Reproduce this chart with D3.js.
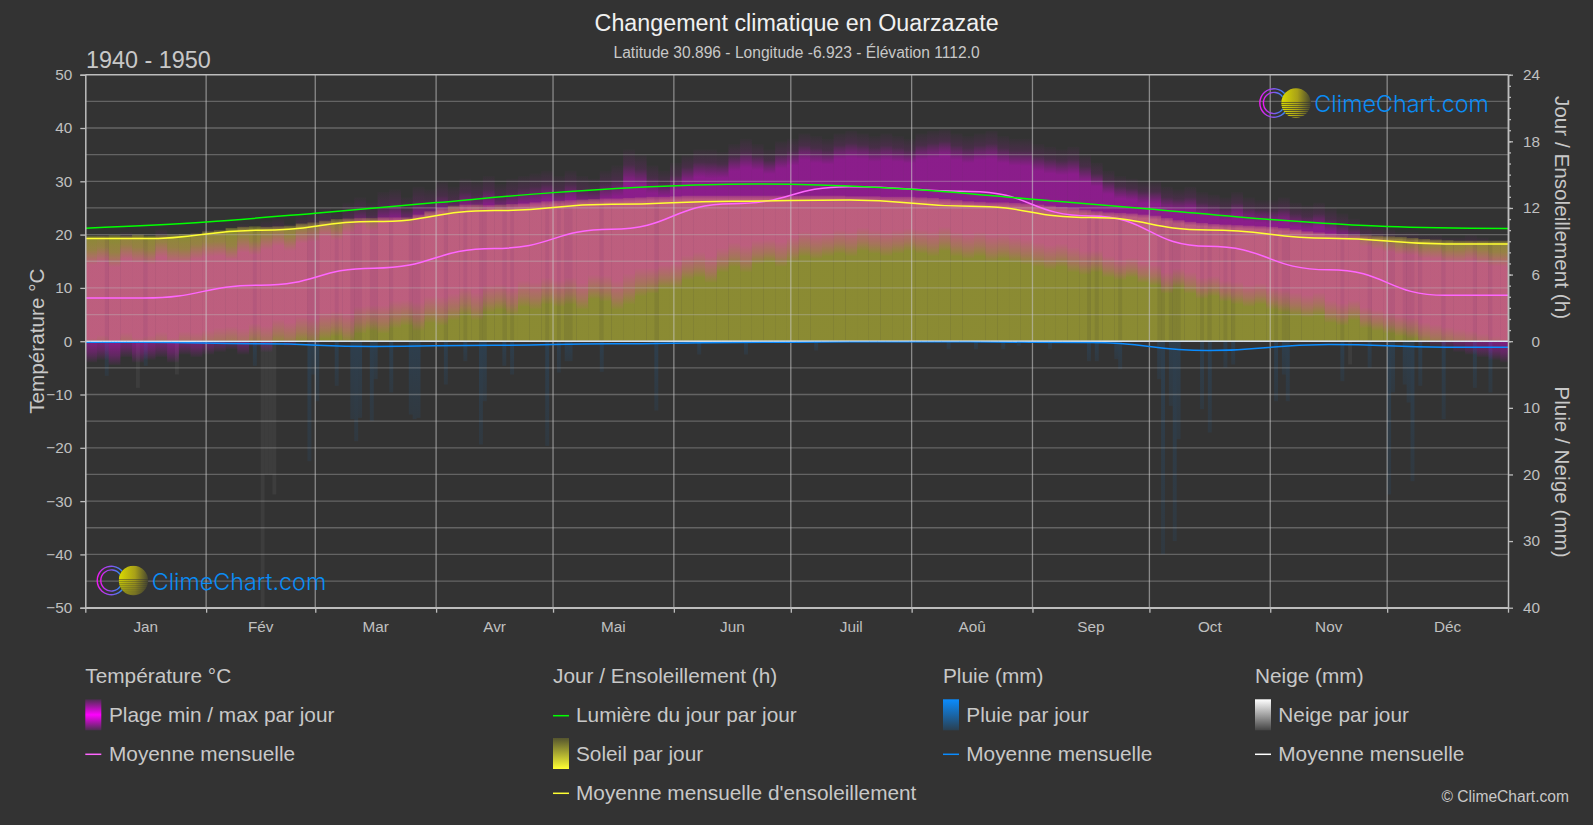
<!DOCTYPE html>
<html lang="fr">
<head>
<meta charset="UTF-8">
<title>Changement climatique en Ouarzazate</title>
<script src="https://d3js.org/d3.v7.min.js"></script>
<style>
  html, body { margin: 0; background: #333333; overflow: hidden; }
  text { font-family: "Liberation Sans", Arial, sans-serif; fill: #c8c8c8; }
  .domain { stroke: #bdbdbd; stroke-width: 1.5; }
  .tick line { stroke: #bdbdbd; stroke-width: 1.3; }
  .tick text { font-size: 15.3px; fill: #c0c0c0; }
  .logo-text { font-family: "Inter", "Open Sans", sans-serif; font-weight: 300; fill: #0a8cf5; }
</style>
</head>
<body>
<div id="graph-container"></div>
<script>
const months = ["Jan", "Fév", "Mar", "Avr", "Mai", "Jun", "Juil", "Aoû", "Sep", "Oct", "Nov", "Déc"];
const monthStarts = [0, 31, 59, 90, 120, 151, 181, 212, 243, 273, 304, 334, 365];
const midMonthDays = [15, 45, 74, 105, 135, 166, 196, 227, 258, 288, 319, 349];

// monthly means
const tempMean = [8.1, 10.5, 13.7, 17.4, 21.0, 25.8, 29.0, 28.1, 23.5, 17.8, 13.4, 8.6];
const sunMean = [9.24, 9.99, 10.77, 11.76, 12.33, 12.6, 12.72, 12.15, 11.13, 10.02, 9.27, 8.76];
const rainMean = [0.15, 0.4, 0.8, 0.6, 0.4, 0.2, 0.1, 0.1, 0.2, 1.4, 0.5, 0.9];
const snowMean = [0.05, 0.05, 0, 0, 0, 0, 0, 0, 0, 0, 0, 0.02];

const daylightDays = [0, 31, 59, 90, 120, 150, 172, 181, 212, 243, 273, 304, 334, 365];
const daylightHours = [10.18, 10.74, 11.53, 12.48, 13.38, 13.98, 14.16, 14.13, 13.68, 12.78, 11.9, 10.95, 10.32, 10.14];

// one value for every 3 days of the year
const tempMax = [
  19.5, 20, 19, 20.5, 20, 19.5, 21, 20, 19.5, 20.5, 21,
  21, 20, 22, 21, 22.5, 23, 22, 23.5, 24,
  25, 24, 26, 27, 26, 28, 28.5, 27, 29, 28.5,
  30, 29, 30.5, 30, 31, 29.5, 30.5, 31, 31.5, 32,
  31, 32, 31, 30.5, 32, 33, 36, 35, 33, 32,
  33.5, 35, 36, 36, 35.5, 37, 38, 37, 36, 37.5,
  38, 39, 38.5, 38, 39, 39.5, 39, 38.5, 39, 38.5, 38,
  39, 39.5, 39.8, 39, 38.5, 39, 39.5, 38.5, 38, 38,
  37, 36.5, 36, 36.5, 35, 33.5, 32, 31, 30.5, 30,
  30, 29, 28.5, 29, 28, 27.5, 27, 28, 27, 26.5,
  26.5, 27, 26, 25.5, 26, 25, 24, 23, 22, 21.5,
  21, 20.5, 20.5, 20, 20, 19.5, 19.5, 20, 19.5, 19, 19
];
const tempMin = [
  -4, -3.5, -4.5, -3, -4, -3.5, -3, -4, -2.5, -3, -2.5,
  -2, -1.5, -2.5, -1, -2, -0.5, -1, 0, -0.5,
  0.5, 1, 0, 1.5, 2, 1.5, 2.5, 3, 2, 3.5,
  3, 4, 5, 4, 5.5, 6, 5, 6.5, 6, 7,
  6.5, 7, 6, 8, 7.5, 6, 7, 8.5, 9, 10,
  10, 11.5, 12, 11, 13, 14, 13, 14.5, 15, 14,
  15, 16, 15.5, 16, 16.5, 16, 17, 16.5, 16, 16.5, 17,
  16.5, 16, 17, 16, 15.5, 16, 15, 15.5, 15, 14.5,
  14, 13.5, 14, 13, 12.5, 13, 12, 11.5, 12, 11,
  10.5, 9, 10, 9, 8, 8.5, 7.5, 7, 6.5, 7,
  6, 5.5, 5, 4.5, 5, 3.5, 3, 4, 2.5, 2,
  1.5, 1, 0.5, -0.5, -1, -1.5, -2, -2.5, -3, -3.5, -4
];
const sunTop = [
  9.5, 9.5, 9.55, 9.5, 9.6, 9.5, 9.55, 9.6, 9.65, 9.7, 9.9,
  10, 10.2, 10.3, 10.35, 10.3, 10.35, 10.4, 10.6, 10.7,
  10.85, 11, 11.05, 11.1, 11.1, 11.15, 11.15, 11.15, 11.4, 11.7,
  12, 12.2, 12.3, 12.3, 12.25, 12.3, 12.35, 12.4, 12.5, 12.6,
  12.65, 12.7, 12.75, 12.8, 12.85, 12.85, 12.9, 12.95, 13, 13,
  13.05, 13.1, 13.1, 13.1, 13.1, 13.1, 13.1, 13.1, 13.1, 13.1,
  13.1, 13.1, 13.1, 13.1, 13.1, 13.05, 13.05, 13.05, 13, 13, 13,
  12.95, 12.9, 12.8, 12.7, 12.6, 12.55, 12.5, 12.5, 12.45, 12.4,
  12.3, 12.2, 12.1, 12, 11.85, 11.7, 11.6, 11.55, 11.5, 11.4,
  11.3, 11.1, 10.9, 10.75, 10.65, 10.55, 10.5, 10.45, 10.4, 10.35,
  10.3, 10.2, 10.05, 9.9, 9.8, 9.7, 9.65, 9.6, 9.55, 9.5,
  9.45, 9.4, 9.3, 9.2, 9.15, 9.1, 9.05, 9.05, 9.05, 9.05, 9.05
];

// wet days: day of the year and mm
const rainDays = [5, 15, 43, 57, 58, 59, 64, 68, 69, 70, 73, 74, 78, 83, 84, 85, 92, 97, 101, 102, 107, 109, 118, 121, 123, 124, 132, 146, 157, 169, 187, 221, 228, 235, 239, 247, 257, 259, 264, 265, 275, 276, 278, 279, 280, 286, 288, 292, 294, 305, 307, 308, 322, 329, 334, 335, 338, 339, 340, 342, 348, 356, 360];
const rainMm = [5.2, 3.7, 3.7, 18, 5, 9, 6.7, 11.7, 15, 11.5, 12, 5.7, 7.7, 11, 11.7, 11.5, 6.5, 3, 15.5, 9, 3.7, 5, 15.7, 4.7, 3, 3, 4.6, 10.4, 2, 2, 1.4, 1.2, 1.2, 1.2, 0.7, 1.2, 3, 3, 2.7, 4.2, 5.7, 32, 9.7, 30, 14.7, 10.2, 13.7, 4, 3.5, 9, 5, 9, 6, 4, 23, 7.7, 6.5, 9.2, 21, 6.7, 11.7, 7, 7.7];
const snowDays = [13, 23, 45, 46, 47, 48, 324];
const snowMm = [7, 5, 40, 20, 20, 23, 3.5];

const width = 1593, height = 825;
const plotLeft = 85.3, plotRight = 1508, plotTop = 74.7, plotBottom = 607.7;
const zeroY = (plotTop + plotBottom) / 2;

const x = d3.scaleLinear().domain([0, 365]).range([plotLeft, plotRight]);
const yTemp = d3.scaleLinear().domain([-50, 50]).range([plotBottom, plotTop]);
const yHours = d3.scaleLinear().domain([0, 24]).range([zeroY, plotTop]);
const yRain = d3.scaleLinear().domain([0, 40]).range([zeroY, plotBottom]);

const svg = d3.select("#graph-container").append("svg")
  .attr("width", width).attr("height", height)
  .style("display", "block");
const defs = svg.append("defs");

function alphaGradient(id, color, peak, stops) {
  const g = defs.append("linearGradient").attr("id", id).attr("x1", 0).attr("y1", 0).attr("x2", 0).attr("y2", 1);
  stops.forEach(s => {
    g.append("stop").attr("offset", s[0]).attr("stop-color", color).attr("stop-opacity", s[1] * peak);
  });
}
const tempFade = [[0, 0.03], [0.1, 0.22], [0.22, 1], [0.8, 1], [0.92, 0.5], [1, 0.04]];
alphaGradient("tempUnder", "#ff00ff", 0.2, tempFade);
alphaGradient("tempOver", "#ff00ff", 0.29, tempFade);
alphaGradient("sunFill", "rgb(255,255,51)", 0.43, [[0, 0.4], [0.03, 1], [1, 1]]);
alphaGradient("rainFill", "#0a8cff", 0.13, [[0, 1], [1, 0.5]]);

function swatchGradient(id, stops) {
  const g = defs.append("linearGradient").attr("id", id).attr("x1", 0).attr("y1", 0).attr("x2", 0).attr("y2", 1);
  stops.forEach(s => g.append("stop").attr("offset", s[0]).attr("stop-color", s[1]));
}
swatchGradient("swTemp", [[0, "#4b2d4f"], [0.5, "#ff00ff"], [1, "#4b2d4f"]]);
swatchGradient("swSun", [[0, "#55552f"], [1, "#ffff33"]]);
swatchGradient("swRain", [[0, "#0a8cff"], [1, "#2a3f50"]]);
swatchGradient("swSnow", [[0, "#ffffff"], [1, "#444444"]]);

const plot = svg.append("g").attr("clip-path", "url(#plotClip)");
defs.append("clipPath").attr("id", "plotClip").append("rect")
  .attr("x", plotLeft).attr("y", plotTop).attr("width", plotRight - plotLeft).attr("height", plotBottom - plotTop);

const binIdx = d3.range(tempMax.length);
const binW = x(3) - x(0);

function tempBars(fill) {
  plot.append("g").selectAll("rect").data(binIdx).enter().append("rect")
    .attr("x", i => x(i * 3))
    .attr("width", binW)
    .attr("y", i => yTemp(tempMax[i]))
    .attr("height", i => yTemp(tempMin[i]) - yTemp(tempMax[i]))
    .attr("fill", fill);
}

// rain and snow hang below the zero line
plot.append("g").selectAll("rect").data(d3.range(rainDays.length)).enter().append("rect")
  .attr("x", i => x(rainDays[i]))
  .attr("width", x(1) - x(0))
  .attr("y", yRain(0))
  .attr("height", i => yRain(rainMm[i]) - yRain(0))
  .attr("fill", "url(#rainFill)");
plot.append("g").selectAll("rect").data(d3.range(snowDays.length)).enter().append("rect")
  .attr("x", i => x(snowDays[i]))
  .attr("width", x(1) - x(0))
  .attr("y", yRain(0))
  .attr("height", i => yRain(snowMm[i]) - yRain(0))
  .attr("fill", "#ffffff").attr("fill-opacity", 0.05);

tempBars("url(#tempUnder)");

plot.append("g").selectAll("rect").data(binIdx).enter().append("rect")
  .attr("x", i => x(i * 3))
  .attr("width", binW)
  .attr("y", i => yHours(sunTop[i]))
  .attr("height", i => yHours(0) - yHours(sunTop[i]))
  .attr("fill", "url(#sunFill)");

// wet days show up as darker stripes in the sun bars
plot.append("g").selectAll("rect").data(d3.range(rainDays.length).filter(i => rainMm[i] >= 3)).enter().append("rect")
  .attr("x", i => x(rainDays[i]))
  .attr("width", x(1) - x(0))
  .attr("y", i => yHours(sunTop[Math.floor(rainDays[i] / 3)]))
  .attr("height", i => yHours(0) - yHours(sunTop[Math.floor(rainDays[i] / 3)]))
  .attr("fill", "#333333").attr("fill-opacity", 0.1);

tempBars("url(#tempOver)");

// grid
const grid = svg.append("g");
grid.selectAll(".h").data(d3.range(-45, 50, 5).filter(v => v !== 0)).enter().append("line")
  .attr("x1", plotLeft).attr("x2", plotRight)
  .attr("y1", d => yTemp(d)).attr("y2", d => yTemp(d))
  .attr("stroke", "#bdbdbd").attr("stroke-opacity", 0.36).attr("stroke-width", 1.3);
grid.selectAll(".v").data(monthStarts.slice(1, -1)).enter().append("line")
  .attr("x1", d => x(d)).attr("x2", d => x(d))
  .attr("y1", plotTop).attr("y2", plotBottom)
  .attr("stroke", "#d0d0d0").attr("stroke-opacity", 0.55).attr("stroke-width", 1.3);
grid.append("line").attr("x1", plotLeft).attr("x2", plotRight).attr("y1", plotTop).attr("y2", plotTop)
  .attr("stroke", "#bdbdbd").attr("stroke-width", 1.4);
grid.append("line").attr("x1", plotLeft).attr("x2", plotRight).attr("y1", plotBottom).attr("y2", plotBottom)
  .attr("stroke", "#bdbdbd").attr("stroke-width", 1.4);
grid.append("line").attr("x1", plotLeft).attr("x2", plotRight).attr("y1", zeroY).attr("y2", zeroY)
  .attr("stroke", "#cfcfcf").attr("stroke-width", 1.4);

// monthly curves hold flat around mid month and step across month ends
const linesLayer = svg.append("g").attr("clip-path", "url(#plotClip)");
function monthlyLine(values, y, color, w) {
  const days = [0].concat(midMonthDays, [365]);
  const vals = [values[0]].concat(values, [values[values.length - 1]]);
  const line = d3.line().x(d => x(d[0])).y(d => y(d[1])).curve(d3.curveBumpX);
  linesLayer.append("path").attr("d", line(days.map((d, i) => [d, vals[i]])))
    .attr("fill", "none").attr("stroke", color).attr("stroke-width", w);
}
monthlyLine(rainMean, yRain, "#0a8cff", 1.5);
monthlyLine(snowMean, yRain, "#d8e8ff", 0.8);
monthlyLine(tempMean, yTemp, "#ff66ff", 1.5);
monthlyLine(sunMean, yHours, "#ffff33", 1.5);

const daylightLine = d3.line().x(d => x(d[0])).y(d => yHours(d[1])).curve(d3.curveMonotoneX);
linesLayer.append("path").attr("d", daylightLine(daylightDays.map((d, i) => [d, daylightHours[i]])))
  .attr("fill", "none").attr("stroke", "#00ff00").attr("stroke-width", 1.5);

// axes
svg.append("g").attr("transform", "translate(" + plotLeft + ",0)")
  .call(d3.axisLeft(yTemp).tickValues(d3.range(-50, 51, 10)).tickSize(5).tickPadding(8));
svg.append("g").attr("transform", "translate(" + plotRight + ",0)")
  .call(d3.axisRight(yHours).tickValues(d3.range(0, 25)).tickSize(3).tickSizeOuter(0).tickFormat(""));
const rightTop = svg.append("g").attr("transform", "translate(" + plotRight + ",0)")
  .call(d3.axisRight(yHours).tickValues(d3.range(0, 25, 6)).tickSize(5).tickSizeOuter(0));
const rightBottom = svg.append("g").attr("transform", "translate(" + plotRight + ",0)")
  .call(d3.axisRight(yRain).tickValues(d3.range(10, 41, 10)).tickSize(5).tickSizeOuter(0));
rightTop.selectAll("text").attr("text-anchor", "end").attr("x", 32);
rightBottom.selectAll("text").attr("text-anchor", "end").attr("x", 32);

svg.append("g").attr("transform", "translate(0," + plotBottom + ")")
  .call(d3.axisBottom(x).tickValues(monthStarts).tickSize(5).tickSizeOuter(0).tickFormat(""));
const monthAxis = svg.append("g").attr("transform", "translate(0," + plotBottom + ")")
  .call(d3.axisBottom(d3.scaleBand().domain(months).range([0, 1])).tickSize(0));
monthAxis.select(".domain").remove();
monthAxis.selectAll(".tick").attr("transform", (d, i) => "translate(" + x((monthStarts[i] + monthStarts[i + 1]) / 2) + ",0)");
monthAxis.selectAll("text").attr("y", 13).attr("dy", "0.71em");

function label(px, py, str, size, opts) {
  opts = opts || {};
  const t = svg.append("text").attr("x", px).attr("y", py).text(str)
    .style("font-size", size + "px").attr("text-anchor", opts.anchor || "start");
  if (opts.fill) t.style("fill", opts.fill);
  if (opts.rotate !== undefined) {
    t.attr("transform", "rotate(" + opts.rotate + " " + px + " " + py + ")");
  }
  return t;
}

label(796.6, 30.5, "Changement climatique en Ouarzazate", 23.3, { anchor: "middle", fill: "#f0f0f0" });
label(796.6, 57.5, "Latitude 30.896 - Longitude -6.923 - Élévation 1112.0", 15.6, { anchor: "middle" });
label(86, 68, "1940 - 1950", 23.4);

label(44.5, zeroY, "Température °C", 20.7, { anchor: "middle", rotate: -90 });
label(1555, 207.5, "Jour / Ensoleillement (h)", 20.7, { anchor: "middle", rotate: 90 });
label(1555, 472, "Pluie / Neige (mm)", 20.7, { anchor: "middle", rotate: 90 });

// legend
const legendGroups = ["Température °C", "Jour / Ensoleillement (h)", "Pluie (mm)", "Neige (mm)"];
const legendX = [85.3, 553, 943, 1255];
const legendSize = 20.8;
legendGroups.forEach((g, i) => label(legendX[i], 682.7, g, legendSize));

function swatch(px, py, id) {
  svg.append("rect").attr("x", px).attr("y", py).attr("width", 16).attr("height", 31).attr("fill", "url(#" + id + ")");
}
function dash(px, py, color) {
  svg.append("line").attr("x1", px).attr("x2", px + 16).attr("y1", py).attr("y2", py)
    .attr("stroke", color).attr("stroke-width", 1.5);
}
swatch(legendX[0], 699.3, "swTemp");
label(109, 721.7, "Plage min / max par jour", legendSize);
dash(legendX[0], 754.3, "#ff66ff");
label(109, 760.7, "Moyenne mensuelle", legendSize);

dash(legendX[1], 715.7, "#00ff00");
label(576, 721.7, "Lumière du jour par jour", legendSize);
swatch(legendX[1], 738, "swSun");
label(576, 760.7, "Soleil par jour", legendSize);
dash(legendX[1], 793.3, "#ffff33");
label(576, 799.7, "Moyenne mensuelle d'ensoleillement", legendSize);

swatch(legendX[2], 699.3, "swRain");
label(966.3, 721.7, "Pluie par jour", legendSize);
dash(legendX[2], 754.3, "#0a8cff");
label(966.3, 760.7, "Moyenne mensuelle", legendSize);

swatch(legendX[3], 699.3, "swSnow");
label(1278.3, 721.7, "Neige par jour", legendSize);
dash(legendX[3], 754.3, "#ffffff");
label(1278.3, 760.7, "Moyenne mensuelle", legendSize);

label(1569, 801.7, "© ClimeChart.com", 15.6, { anchor: "end" });

// logo
const ringGrad = defs.append("linearGradient").attr("id", "ringGrad");
ringGrad.append("stop").attr("offset", 0).attr("stop-color", "#f018f0");
ringGrad.append("stop").attr("offset", 1).attr("stop-color", "#2a8cf0");
const ballGrad = defs.append("linearGradient").attr("id", "ballGrad");
ballGrad.append("stop").attr("offset", 0).attr("stop-color", "#dcdc00");
ballGrad.append("stop").attr("offset", 0.55).attr("stop-color", "#a8a018");
ballGrad.append("stop").attr("offset", 1).attr("stop-color", "#444430");

function logo(cx, cy, textX, baseline) {
  const g = svg.append("g");
  [14.2, 10.6].forEach(r => {
    g.append("path")
      .attr("transform", "translate(" + cx + "," + cy + ")")
      .attr("d", d3.arc().innerRadius(r - 0.7).outerRadius(r + 0.7).startAngle(Math.PI * 0.69).endAngle(Math.PI * 2.31)())
      .attr("fill", "url(#ringGrad)");
  });
  const bx = cx + 22;
  g.append("circle").attr("cx", bx).attr("cy", cy).attr("r", 14.7).attr("fill", "#333333");
  const clipId = "ball" + Math.round(cx);
  defs.append("clipPath").attr("id", clipId).append("circle").attr("cx", bx).attr("cy", cy).attr("r", 14.7);
  const ball = g.append("g").attr("clip-path", "url(#" + clipId + ")");
  ball.append("rect").attr("x", bx - 15).attr("y", cy - 15).attr("width", 30).attr("height", 14).attr("fill", "url(#ballGrad)");
  d3.range(8).forEach(k => {
    ball.append("rect").attr("x", bx - 15).attr("y", cy + k * 2.05 - 0.4).attr("width", 30)
      .attr("height", 1.5 - k * 0.05).attr("fill", "url(#ballGrad)");
  });
  svg.append("text").attr("class", "logo-text").attr("x", textX).attr("y", baseline)
    .style("font-size", "23.3px").text("ClimeChart.com");
}
logo(1274, 103, 1314.3, 112.3);
logo(111.4, 580.5, 151.7, 590);
</script>
</body>
</html>
